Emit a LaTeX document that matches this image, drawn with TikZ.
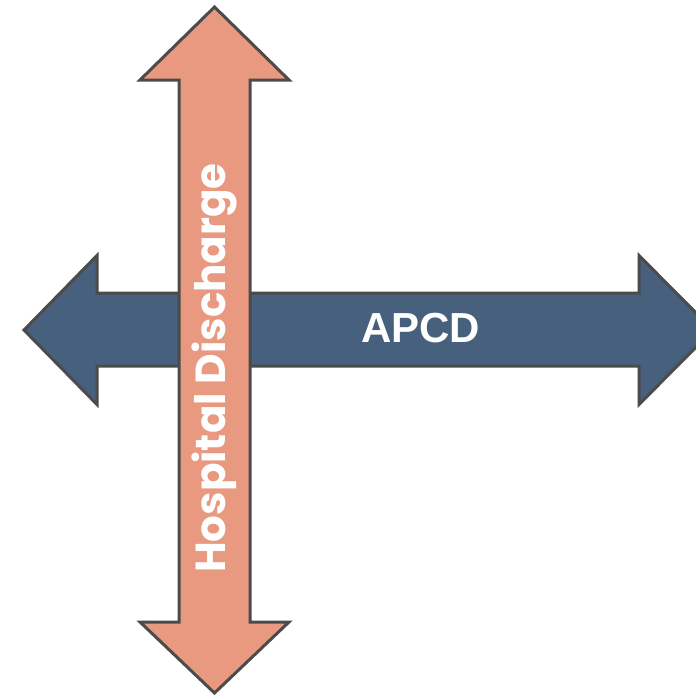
\documentclass[tikz,border=0pt]{standalone}
\usepackage{fontspec}
\setmainfont{Liberation Sans}
\newfontfamily\poppins{Poppins}
\definecolor{apcdblue}{HTML}{46607D}
\definecolor{hospsalmon}{HTML}{E8997F}
\definecolor{rimgray}{HTML}{4B4B4B}
\tikzset{x=1pt, y=-1pt,
    axis arrow/.style={draw=rimgray, line width=3pt, line join=miter},
    arrow label/.style={text=white, font=\fontsize{42}{42}\selectfont\bfseries, inner sep=0pt},
    }

\begin{document}
\begin{tikzpicture}
\useasboundingbox (0,0) rectangle (696,696);
\clip (0,0) rectangle (696,696);
% APCD
\draw[axis arrow, fill=apcdblue] (24,330) -- (97,255.5) -- (97,293) -- (639,293) -- (639,255.5)
	-- (713,330) -- (639,404.5) -- (639,366) -- (97,366) -- (97,404.5) -- cycle;
% Hospital Discharge
\draw[axis arrow, fill=hospsalmon] (214.5,7) -- (289,80) -- (250,80) -- (250,622) -- (289,622)
	-- (214.5,693) -- (140,622) -- (179,622) -- (179,80) -- (140,80) -- cycle;
\node[arrow label] (apcd) at (420.5,328) {APCD};
\node[arrow label, font=\fontsize{42}{42}\selectfont\poppins\bfseries, rotate=90] (hosp) at (214.5,368) {Hospital Discharge};
\end{tikzpicture}
\end{document}
